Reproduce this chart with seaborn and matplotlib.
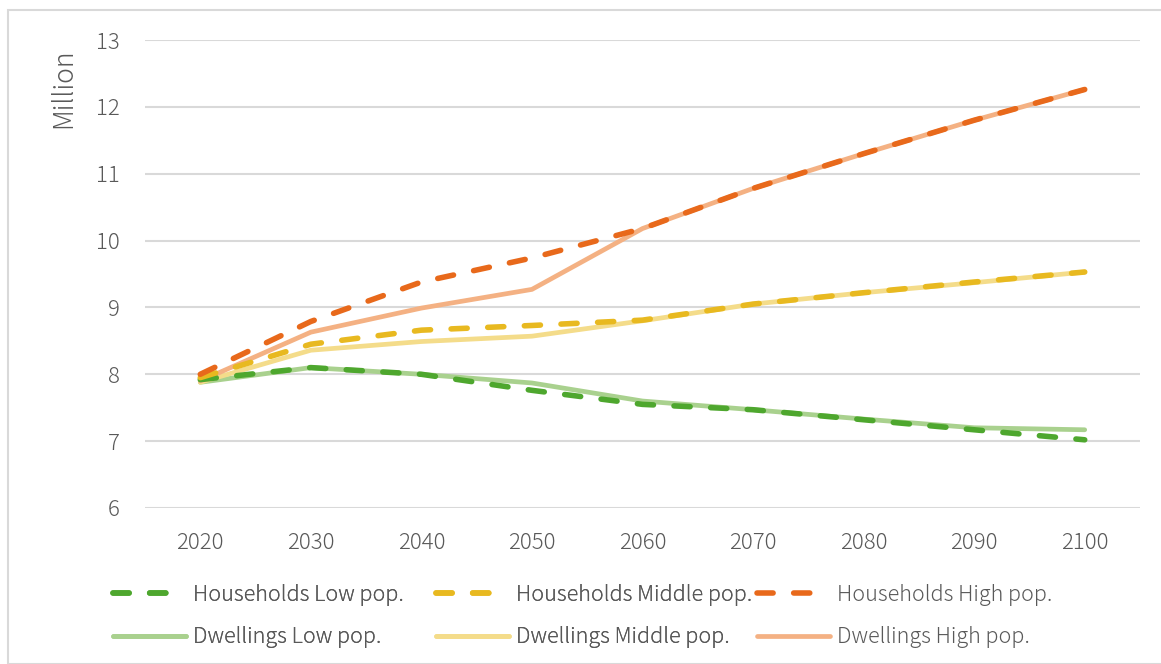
import matplotlib
matplotlib.use("Agg")
import matplotlib.pyplot as plt
from matplotlib.patches import Rectangle
from matplotlib.lines import Line2D
import seaborn as sns
import pandas as pd

# Projection years
years = [2020, 2030, 2040, 2050, 2060, 2070, 2080, 2090, 2100]

# Households by population scenario (million)
households_low = [7.92, 8.10, 8.00, 7.76, 7.55, 7.47, 7.32, 7.17, 7.02]
households_middle = [7.95, 8.45, 8.66, 8.73, 8.81, 9.05, 9.22, 9.38, 9.53]
households_high = [8.00, 8.79, 9.38, 9.74, 10.18, 10.78, 11.30, 11.80, 12.26]

# Dwellings by population scenario (million)
dwellings_low = [7.88, 8.10, 8.00, 7.87, 7.60, 7.47, 7.33, 7.20, 7.17]
dwellings_middle = [7.88, 8.36, 8.49, 8.57, 8.80, 9.05, 9.22, 9.37, 9.53]
dwellings_high = [7.90, 8.63, 8.99, 9.27, 10.18, 10.78, 11.30, 11.80, 12.26]

series_names = [
    "Households Low pop.", "Households Middle pop.", "Households High pop.",
    "Dwellings Low pop.", "Dwellings Middle pop.", "Dwellings High pop.",
]
series_values = [
    households_low, households_middle, households_high,
    dwellings_low, dwellings_middle, dwellings_high,
]
colors = {
    "Households Low pop.": "#4EA72E",
    "Households Middle pop.": "#E8B920",
    "Households High pop.": "#E8691B",
    "Dwellings Low pop.": "#A9D18E",
    "Dwellings Middle pop.": "#F4DC8A",
    "Dwellings High pop.": "#F4B183",
}

df = pd.DataFrame(
    [(name, y, v) for name, vals in zip(series_names, series_values)
     for y, v in zip(years, vals)],
    columns=["series", "year", "value"],
)

sns.set_theme(style="white")
plt.rcParams["font.family"] = ["Noto Sans CJK JP", "DejaVu Sans"]
plt.rcParams["font.weight"] = 300
text_color = "#595959"

fig = plt.figure(figsize=(11.61, 6.64), dpi=100)
ax = fig.add_axes([145 / 1161, 1 - 508 / 664, 995 / 1161, 468 / 664])

dash_pattern = (2.9, 3.7)
dashed_lw = 4.0
solid_lw = 3.4
handles = {}
# Dwellings first so the dashed household lines sit on top
for name in series_names[3:] + series_names[:3]:
    sub = df[df["series"] == name]
    dashed = name.startswith("Households")
    lw = dashed_lw if dashed else solid_lw
    sns.lineplot(
        data=sub, x="year", y="value", ax=ax, color=colors[name],
        linewidth=lw, legend=False, zorder=4 if dashed else 3,
    )
    line = ax.lines[-1]
    line.set_solid_capstyle("round")
    line.set_solid_joinstyle("round")
    h = Line2D([], [], color=colors[name], linewidth=lw,
               solid_capstyle="round")
    if dashed:
        for art in (line, h):
            art.set_dashes(dash_pattern)
            art.set_dash_capstyle("round")
    handles[name] = h

ax.set_xlim(2015, 2105)
ax.set_ylim(6, 13)
ax.set_xticks(years)
ax.set_xticklabels([str(y) for y in years])
ax.set_yticks(range(6, 14))
ax.grid(axis="y", color="#D9D9D9", linewidth=1.5)
ax.grid(axis="x", visible=False)
for s in ax.spines.values():
    s.set_visible(False)
ax.tick_params(axis="both", length=0, labelsize=16, labelcolor=text_color)
ax.tick_params(axis="y", pad=18)
ax.tick_params(axis="x", pad=17)
ax.set_xlabel("")
ax.set_ylabel("")

fig.text(63 / 1161, 1 - 88 / 664, "Million", rotation=90, ha="center",
         va="center", fontsize=19, color=text_color)

# Legend: three equal-width columns, households on the first row
col_x = [113, 436, 757]
for i in range(3):
    pair = [series_names[i], series_names[i + 3]]
    leg = fig.legend(
        [handles[n] for n in pair], pair,
        loc="upper left", bbox_to_anchor=(col_x[i] / 1161, 1 - 584 / 664),
        frameon=False, fontsize=15.5, labelcolor=text_color,
        handlelength=3.4, handletextpad=0.3, labelspacing=0.95,
        borderaxespad=0, borderpad=0,
    )
    if i < 2:
        fig.add_artist(leg)

fig.patches.append(Rectangle((8 / 1161, 0), 1.2, 1 - 10 / 664,
                             transform=fig.transFigure, fill=False,
                             edgecolor="#D9D9D9", linewidth=1.5))

fig.savefig("out.png", dpi=100)
